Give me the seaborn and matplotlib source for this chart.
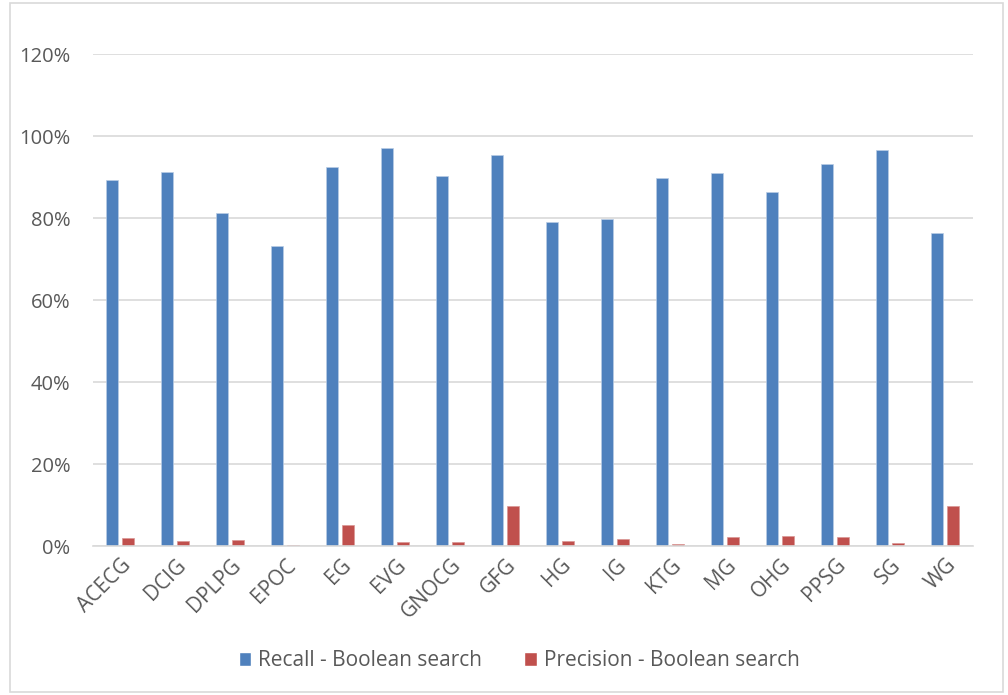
import pandas as pd
import seaborn as sns
import matplotlib.pyplot as plt
from matplotlib.patches import Rectangle, Patch
from matplotlib.ticker import FuncFormatter

# data (percent)
groups = ["ACECG", "DCIG", "DPLPG", "EPOC", "EG", "EVG", "GNOCG", "GFG",
          "HG", "IG", "KTG", "MG", "OHG", "PPSG", "SG", "WG"]
recall = [89.4, 91.2, 81.3, 73.3, 92.4, 97.1, 90.2, 95.5,
          79.1, 79.9, 89.9, 91.0, 86.3, 93.3, 96.6, 76.3]
precision = [2.0, 1.2, 1.6, 0.25, 5.1, 1.0, 1.0, 9.9,
             1.4, 1.7, 0.5, 2.3, 2.4, 2.2, 0.7, 9.7]
series = ["Recall - Boolean search", "Precision - Boolean search"]
colors = ["#4F81BD", "#C0504D"]

df = pd.concat([
    pd.DataFrame({"group": groups, "value": recall, "series": series[0]}),
    pd.DataFrame({"group": groups, "value": precision, "series": series[1]}),
])

sns.set_style("white")
plt.rcParams['font.family'] = ['Open Sans', 'DejaVu Sans']

fig = plt.figure(figsize=(10.08, 6.95), dpi=100)
ax = fig.add_axes([0.092, 0.214, 0.873, 0.708])

sns.barplot(data=df, x="group", y="value", hue="series", palette=colors,
            saturation=1, width=0.58, gap=0.22, ax=ax, legend=False,
            edgecolor="#B9CDE5", linewidth=0.5)
# lighter outline on the red bars
for bar in ax.containers[1]:
    bar.set_edgecolor("#DA9694")

ax.set_ylim(0, 120)
ax.set_yticks(range(0, 121, 20))
ax.yaxis.set_major_formatter(FuncFormatter(lambda v, p: f"{v:.0f}%"))
ax.grid(axis="y", color="#D9D9D9", linewidth=1.2)
ax.set_axisbelow(True)
ax.set_xlim(-0.5, len(groups) - 0.5)
ax.set_xlabel("")
ax.set_ylabel("")
for s in ["top", "right", "left"]:
    ax.spines[s].set_visible(False)
ax.spines["bottom"].set_color("#D9D9D9")
ax.spines["bottom"].set_linewidth(1.2)
ax.tick_params(axis="both", length=0, colors="#595959", labelsize=14.5)
ax.tick_params(axis="x", labelsize=15, pad=6)
ax.tick_params(axis="y", pad=16)
plt.setp(ax.get_xticklabels(), rotation=45, ha="right", rotation_mode="anchor")

handles = [Patch(facecolor=c, label=l) for c, l in zip(colors, series)]
leg = fig.legend(handles=handles, loc="center", bbox_to_anchor=(0.515, 0.049),
                 ncol=2, frameon=False, fontsize=15, handlelength=0.6,
                 handleheight=0.6, handletextpad=0.35, columnspacing=2.0)
for t in leg.get_texts():
    t.set_color("#595959")

# chart border
fig.patches.append(Rectangle((0.01, 0.005), 0.985, 0.99, transform=fig.transFigure,
                             fill=False, edgecolor="#D9D9D9", linewidth=1.2))

fig.savefig("out.png", dpi=100)
